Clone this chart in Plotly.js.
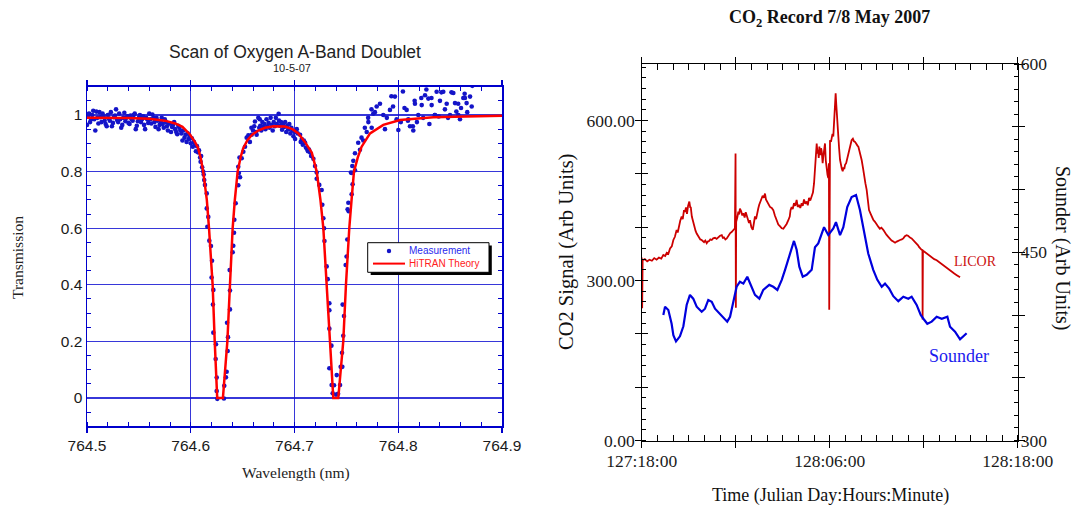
<!DOCTYPE html>
<html>
<head>
<meta charset="utf-8">
<script src="https://cdn.plot.ly/plotly-3.0.1.min.js"></script>
<style>
  html, body { margin: 0; padding: 0; background: #ffffff; }
  #chart { width: 1078px; height: 508px; }
</style>
</head>
<body>
<div id="chart"></div>
<script>
// ---- Oxygen A-band scan: measured transmission, [wavelength nm, transmission] ----
const SCAN_WING_LEFT = [
  [764.500,0.965],[764.501,0.995],[764.502,1.005],[764.503,0.975],[764.504,0.985],[764.505,1.000],[764.506,1.015],[764.507,0.985],[764.508,0.945],[764.509,1.012],
  [764.510,0.990],[764.511,0.970],[764.512,1.010],[764.513,0.992],[764.514,0.975],[764.515,1.005],[764.516,0.995],[764.517,0.980],[764.518,0.968],[764.519,0.960],
  [764.520,1.000],[764.521,0.988],[764.522,0.980],[764.523,1.010],[764.524,0.960],[764.525,0.972],[764.526,0.992],[764.527,0.998],[764.528,1.020],[764.529,0.982],
  [764.530,0.975],[764.531,1.005],[764.532,0.985],[764.533,0.955],[764.534,0.965],[764.535,0.990],[764.536,1.008],[764.537,0.978],[764.538,0.990],[764.539,0.995],
  [764.540,0.972],[764.541,0.968],[764.542,0.998],[764.543,0.985],[764.544,0.980],[764.545,1.000],[764.546,1.005],[764.547,0.950],[764.548,0.962],[764.549,0.978],
  [764.550,0.990],[764.551,1.000],[764.552,0.975],[764.553,0.985],[764.554,0.995],[764.555,0.965],[764.556,0.950],[764.557,0.990],[764.558,0.985],[764.559,0.972],
  [764.560,1.005],[764.561,0.985],[764.562,0.970],[764.563,1.002],[764.564,0.990],[764.565,0.975],[764.566,0.958],[764.567,0.990],[764.568,0.980],[764.569,0.950],
  [764.570,0.965],[764.571,0.978],[764.572,0.990],[764.573,0.968],[764.574,0.955],[764.575,0.985],[764.576,0.975],[764.577,0.960],[764.578,0.945],[764.579,0.970],
  [764.580,0.970],[764.581,0.940],[764.582,0.958],[764.583,0.965],[764.584,0.975],[764.585,0.950],[764.586,0.940],[764.587,0.932],[764.588,0.962],[764.589,0.955],
  [764.590,0.945]
];
const SCAN_DIP_1 = [
  [764.591,0.935],[764.592,0.910],[764.593,0.945],[764.594,0.920],[764.595,0.930],[764.596,0.905],[764.597,0.935],[764.598,0.915],[764.599,0.925],[764.600,0.900],
  [764.601,0.918],[764.602,0.888],[764.603,0.905],[764.604,0.895],[764.605,0.872],[764.606,0.890],[764.607,0.868],[764.608,0.875],[764.609,0.850],[764.6095,0.835],
  [764.610,0.855],[764.611,0.815],[764.612,0.800],[764.6125,0.790],[764.613,0.770],[764.6137,0.753],[764.6154,0.723],[764.6154,0.670],[764.616,0.605],[764.6169,0.640],
  [764.6179,0.556],[764.6195,0.537],[764.6205,0.485],[764.6201,0.426],[764.6218,0.382],[764.6214,0.330],[764.6218,0.231],[764.6243,0.190],[764.6240,0.138],[764.6250,0.072],
  [764.6250,0.025],[764.6256,-0.003],[764.6320,-0.002],[764.6323,0.043],[764.6339,0.073],[764.6346,0.093],[764.6356,0.166],[764.6359,0.215],[764.6350,0.266],[764.6378,0.313],
  [764.6378,0.380],[764.6375,0.452],[764.6404,0.515],[764.6410,0.538],[764.6417,0.584],[764.6420,0.630],[764.6433,0.688],[764.6458,0.752],[764.6458,0.817],[764.6464,0.795],
  [764.6475,0.780]
];
const SCAN_HUMP = [
  [764.6470,0.850],[764.6491,0.847],[764.6507,0.870],[764.6523,0.888],[764.6539,0.920],[764.6555,0.928],[764.6570,0.905],[764.6587,0.930],[764.6600,0.945],[764.6619,0.977],
  [764.6630,0.940],[764.6651,0.990],[764.6660,0.955],[764.6670,0.962],[764.6680,0.945],[764.6690,0.975],[764.6700,0.958],[764.6710,0.968],[764.6720,0.950],[764.6730,0.985],
  [764.6740,0.960],[764.6750,0.972],[764.6760,0.955],[764.6770,0.990],[764.6780,0.965],[764.6790,0.945],[764.6800,0.975],[764.6810,0.960],[764.6820,0.990],[764.6830,0.968],
  [764.6847,1.004],[764.6850,0.980],[764.6860,0.962],[764.6870,0.975],[764.6880,0.948],[764.6890,0.968],[764.6900,0.958],[764.6910,0.975],[764.6920,0.940],[764.6930,0.962],
  [764.6940,0.950],[764.6950,0.968],[764.6960,0.935],[764.6970,0.955],[764.6980,0.945],[764.6990,0.925],[764.6585,0.955],[764.6612,0.960],[764.6635,0.930],[764.6665,0.985]
];
const SCAN_DIP_2 = [
  [764.7000,0.940],[764.7006,0.915],[764.7022,0.950],[764.7030,0.935],[764.7054,0.930],[764.7060,0.905],[764.7070,0.915],[764.7080,0.895],[764.7090,0.910],[764.7102,0.902],
  [764.7110,0.885],[764.7120,0.880],[764.7130,0.872],[764.7140,0.878],[764.7150,0.868],[764.7160,0.855],[764.7182,0.845],[764.7198,0.820],[764.7214,0.797],[764.7214,0.775],
  [764.7239,0.753],[764.7262,0.735],[764.7268,0.683],[764.7278,0.635],[764.7285,0.600],[764.7289,0.555],[764.7310,0.465],[764.7320,0.420],[764.7336,0.335],[764.7336,0.310],
  [764.7336,0.245],[764.7356,0.185],[764.7336,0.105],[764.7358,0.046],[764.7368,0.017],[764.7381,0.045],[764.7407,0.081],[764.7400,0.012],[764.7420,0.015],[764.7439,0.046],
  [764.7445,0.110],[764.7461,0.110],[764.7458,0.160],[764.7470,0.220],[764.7477,0.290],[764.7464,0.330],[764.7493,0.470],[764.7502,0.500],[764.7509,0.560],[764.7522,0.660],
  [764.7519,0.690],[764.7512,0.667],[764.7551,0.720],[764.7560,0.755],[764.7544,0.797],[764.7557,0.820],[764.7567,0.838],[764.7551,0.795],[764.7583,0.805],[764.7583,0.865],
  [764.7614,0.902],[764.7631,0.877],[764.7646,0.920],[764.7663,0.910],[764.7678,0.955],[764.7696,0.940],[764.7710,0.990],[764.7712,0.975]
];
const SCAN_WING_RIGHT = [
  [764.7742,1.020],[764.7744,0.955],[764.7760,1.005],[764.7775,1.010],[764.7792,1.030],[764.7824,1.040],[764.7856,1.000],[764.7872,0.950],[764.7920,1.018],[764.7934,1.066],
  [764.7950,1.030],[764.7968,1.065],[764.7984,0.985],[764.8001,0.947],[764.8045,1.083],[764.8060,1.025],[764.8081,1.018],[764.8093,0.980],[764.8097,0.985],[764.8113,0.960],
  [764.8141,0.960],[764.8145,0.945],[764.8158,1.050],[764.8161,1.040],[764.8193,1.000],[764.8222,1.060],[764.8226,1.035],[764.8258,1.070],[764.8271,1.090],[764.8290,1.058],
  [764.8320,1.060],[764.8322,1.035],[764.8352,1.000],[764.8354,1.000],[764.8370,1.082],[764.8402,1.050],[764.8416,1.080],[764.8434,1.082],[764.8450,1.020],[764.8467,1.040],
  [764.8499,1.000],[764.8513,1.080],[764.8531,1.078],[764.8547,1.042],[764.8578,1.040],[764.8579,1.000],[764.8595,0.985],[764.8627,1.060],[764.8640,1.075],[764.8643,1.060],
  [764.8659,1.042],[764.8692,1.065],[764.8708,1.030],[764.8714,1.103],[764.7890,0.990],[764.8025,0.975],[764.8180,0.975],[764.8240,0.990],[764.8300,0.968],[764.8390,0.995],
  [764.8480,0.990],[764.8560,1.012],[764.8605,1.025],[764.8665,1.010]
];

// ---- HITRAN model transmission, [wavelength nm, transmission] ----
const THEORY = [
  [764.500,0.990],[764.520,0.990],[764.540,0.989],[764.560,0.987],[764.575,0.980],[764.585,0.970],[764.592,0.958],[764.599,0.932],[764.604,0.905],[764.607,0.884],
  [764.6095,0.850],[764.6120,0.800],[764.6140,0.750],[764.6155,0.700],[764.6176,0.600],[764.6195,0.500],[764.6211,0.400],[764.6231,0.200],[764.6245,0.070],[764.6255,0.000],
  [764.6310,0.000],[764.6325,0.080],[764.6353,0.200],[764.6378,0.400],[764.6390,0.500],[764.6404,0.600],[764.6425,0.700],[764.6452,0.800],[764.6480,0.850],[764.6505,0.882],
  [764.6545,0.910],[764.6590,0.930],[764.6650,0.945],[764.6716,0.955],[764.6800,0.960],[764.6908,0.959],[764.6980,0.950],[764.7037,0.935],[764.7100,0.905],[764.7167,0.867],
  [764.7214,0.800],[764.7250,0.700],[764.7278,0.600],[764.7295,0.500],[764.7310,0.400],[764.7342,0.200],[764.7360,0.080],[764.7374,0.000],[764.7422,0.000],[764.7440,0.080],
  [764.7470,0.200],[764.7496,0.400],[764.7510,0.500],[764.7528,0.600],[764.7550,0.700],[764.7573,0.800],[764.7610,0.850],[764.7647,0.888],[764.7728,0.935],[764.7856,0.965],
  [764.8017,0.982],[764.8338,0.992],[764.8650,0.995],[764.9000,0.997]
];

// ---- CO2 record: hours after day 127 00:00, signal ----
const LICOR = [
  [18.00,343],[18.03,248],[18.06,338],[18.20,340],[18.35,336],[18.50,339],[18.65,337],[18.80,342],[18.95,339],[19.10,343],
  [19.25,341],[19.38,348],[19.50,346],[19.60,352],[19.70,350],[19.81,360],[19.92,364],[20.02,376],[20.12,382],[20.23,395],
  [20.30,390],[20.38,405],[20.46,412],[20.55,420],[20.62,415],[20.70,432],[20.76,429],[20.83,437],[20.89,425],[20.96,440],
  [21.04,448],[21.10,436],[21.13,438],[21.20,420],[21.26,413],[21.32,404],[21.37,400],[21.44,393],[21.51,388],[21.58,384],
  [21.66,380],[21.74,377],[21.83,376],[21.90,373],[21.98,372],[22.06,375],[22.15,370],[22.22,373],[22.30,374],[22.38,377],
  [22.47,376],[22.56,379],[22.68,380],[22.78,378],[22.89,382],[23.00,384],[23.11,385],[23.18,380],[23.25,381],[23.34,377],
  [23.43,379],[23.50,383],[23.57,386],[23.65,389],[23.74,391],[23.85,394],[23.95,398],[23.99,538],[24.01,249],[24.03,410],
  [24.10,418],[24.17,429],[24.22,424],[24.27,435],[24.35,430],[24.42,422],[24.49,426],[24.57,418],[24.64,428],[24.70,423],
  [24.78,417],[24.85,408],[24.91,413],[25.00,400],[25.09,395],[25.15,410],[25.23,420],[25.30,415],[25.37,430],[25.44,435],
  [25.50,442],[25.58,448],[25.66,454],[25.72,459],[25.80,455],[25.87,463],[25.93,452],[26.00,448],[26.08,445],[26.19,438],
  [26.30,436],[26.40,432],[26.50,422],[26.62,413],[26.72,405],[26.82,402],[26.94,398],[27.04,397],[27.15,401],[27.25,406],
  [27.36,413],[27.45,420],[27.50,432],[27.57,438],[27.64,434],[27.72,445],[27.80,440],[27.89,451],[27.96,438],[28.04,442],
  [28.12,436],[28.21,445],[28.28,440],[28.36,452],[28.44,444],[28.53,448],[28.60,441],[28.68,455],[28.76,450],[28.85,460],
  [28.93,465],[29.00,482],[29.04,505],[29.07,526],[29.12,540],[29.17,557],[29.22,538],[29.26,545],[29.30,530],[29.34,551],
  [29.40,535],[29.45,548],[29.49,542],[29.55,520],[29.59,532],[29.65,545],[29.70,557],[29.75,525],[29.81,507],[29.86,498],
  [29.91,492],[29.95,520],[29.97,245],[29.99,540],[30.02,563],[30.08,560],[30.13,567],[30.18,575],[30.23,570],[30.30,601],
  [30.35,625],[30.38,651],[30.42,630],[30.45,613],[30.50,595],[30.55,576],[30.60,548],[30.66,526],[30.72,515],[30.77,510],
  [30.83,505],[30.88,512],[30.93,509],[30.98,517],[31.05,520],[31.12,528],[31.19,535],[31.26,545],[31.33,555],[31.40,563],
  [31.48,566],[31.55,561],[31.62,560],[31.70,555],[31.77,553],[31.83,551],[31.93,540],[32.04,526],[32.12,512],[32.19,495],
  [32.28,482],[32.36,470],[32.44,450],[32.51,432],[32.60,426],[32.68,420],[32.78,414],[32.89,410],[33.00,404],[33.10,401],
  [33.20,397],[33.30,399],[33.42,395],[33.52,390],[33.62,386],[33.74,382],[33.85,378],[33.95,375],[34.06,373],[34.17,371],
  [34.28,373],[34.38,375],[34.49,376],[34.60,377],[34.70,379],[34.80,383],[34.91,385],[35.00,384],[35.06,382],[35.15,380],
  [35.23,379],[35.33,376],[35.44,373],[35.54,370],[35.64,366],[35.70,363],[35.76,360],[35.85,358],[35.92,357],[35.93,227],
  [35.95,356],[36.05,354],[36.19,351],[36.35,347],[36.51,343],[36.67,340],[36.83,338],[37.00,334],[37.15,331],[37.30,327],
  [37.47,323],[37.63,320],[37.79,316],[37.95,313],[38.11,310],[38.22,308],[38.32,306]
];
const SOUNDER = [
  [19.38,400.0],[19.49,406.6],[19.70,404.0],[19.91,393.0],[20.02,384.0],[20.19,379.0],[20.44,383.0],[20.66,391.0],[20.87,408.0],[21.08,416.0],
  [21.29,413.0],[21.51,406.6],[21.83,402.6],[22.04,405.0],[22.25,412.0],[22.47,410.6],[22.68,405.0],[23.00,401.0],[23.21,398.6],[23.46,394.7],
  [23.64,398.6],[23.81,409.0],[24.06,422.5],[24.27,426.5],[24.49,425.0],[24.74,430.5],[25.02,422.5],[25.23,416.0],[25.51,413.0],[25.76,420.0],
  [26.14,424.0],[26.40,422.5],[26.66,420.0],[26.94,428.0],[27.15,436.0],[27.47,449.0],[27.72,459.0],[27.89,452.0],[28.06,438.5],[28.28,430.5],
  [28.53,432.0],[28.85,436.0],[29.06,454.0],[29.27,457.0],[29.49,465.0],[29.64,470.0],[29.91,463.7],[30.23,469.0],[30.40,474.0],[30.66,463.7],
  [30.87,470.0],[31.12,486.0],[31.40,494.0],[31.68,495.6],[31.93,483.7],[32.19,467.7],[32.46,449.0],[32.78,436.0],[33.04,428.0],[33.32,422.5],
  [33.53,425.0],[33.80,421.0],[34.06,415.0],[34.38,411.0],[34.70,414.6],[35.02,413.0],[35.23,414.6],[35.55,408.0],[35.81,400.0],[35.98,397.0],
  [36.23,393.0],[36.51,394.7],[36.83,398.6],[37.15,397.0],[37.51,398.6],[37.68,390.7],[38.00,386.7],[38.32,380.6],[38.57,384.0],[38.74,385.5]
];

// ---- axis ticks for the CO2 record ----
const TIME_TICKS = [18, 24, 30, 36, 42];
const TIME_LABEL_TICKS = [18, 30, 42];
const TIME_LABELS = ['127:18:00', '128:06:00', '128:18:00'];
const CO2_TICKS = [0, 100, 200, 300, 400, 500, 600];
const CO2_LABEL_TICKS = [0, 300, 600];
const CO2_LABELS = ['0.00', '300.00', '600.00'];
const SOUNDER_TICKS = [300, 350, 400, 450, 500, 550, 600];
const SOUNDER_LABEL_TICKS = [300, 450, 600];
const SOUNDER_LABELS = ['300', '450', '600'];

// ---- drawing ----
const W = 1078, H = 508;
const fx = p => p / W;          // pixel column -> paper x
const fy = p => 1 - p / H;      // pixel row -> paper y
const col = (rows, i) => rows.map(r => r[i]);

const SANS = 'Liberation Sans, Arial, Helvetica, sans-serif';
const SERIF = 'Liberation Serif, Times New Roman, Times, serif';
const BLUE = '#0000cc';
const GRID = 'rgba(20,20,210,0.85)';
const DOT = '#1414c8';

const scan = [...SCAN_WING_LEFT, ...SCAN_DIP_1, ...SCAN_HUMP, ...SCAN_DIP_2, ...SCAN_WING_RIGHT];

const carrier = (xa, ya) => ({ type: 'scatter', mode: 'lines', x: [], y: [], xaxis: xa, yaxis: ya, showlegend: false, hoverinfo: 'skip' });

const traces = [
  { type: 'scatter', mode: 'markers', name: 'Measurement', x: col(scan, 0), y: col(scan, 1),
    xaxis: 'x', yaxis: 'y', marker: { size: 4.6, color: DOT }, showlegend: false },
  { type: 'scatter', mode: 'lines', name: 'HiTRAN Theory', x: col(THEORY, 0), y: col(THEORY, 1),
    xaxis: 'x', yaxis: 'y', line: { color: '#ff0000', width: 2.5 }, showlegend: false },
  { type: 'scatter', mode: 'lines', name: 'LICOR', x: col(LICOR, 0), y: col(LICOR, 1),
    xaxis: 'x2', yaxis: 'y2', line: { color: '#cc0000', width: 1.8 }, showlegend: false },
  { type: 'scatter', mode: 'lines', name: 'Sounder', x: col(SOUNDER, 0), y: col(SOUNDER, 1),
    xaxis: 'x2', yaxis: 'y3', line: { color: '#0000dd', width: 2.2 }, showlegend: false },
  // carriers for the inner tick halves and the label-only axes
  carrier('x3', 'y4'), carrier('x3', 'y5'), carrier('x4', 'y6'), carrier('x4', 'y7')
];

const serifTicks = { family: SERIF, size: 17.5, color: '#1a1a1a' };
const blackTicks = { tickwidth: 1, tickcolor: '#000' };
const bare = { showgrid: false, zeroline: false };

const layout = {
  width: W, height: H,
  margin: { l: 0, r: 0, t: 0, b: 0 },
  paper_bgcolor: '#ffffff', plot_bgcolor: 'rgba(0,0,0,0)',
  showlegend: false,
  // ---- oxygen scan ----
  xaxis: {
    domain: [fx(87), fx(502)], range: [764.5, 764.9], anchor: 'y',
    tickmode: 'linear', tick0: 764.5, dtick: 0.1, tickformat: '.1f',
    ticks: 'outside', ticklen: 5, tickwidth: 1.2, tickcolor: BLUE,
    showline: true, linecolor: BLUE, linewidth: 1.5, mirror: 'allticks',
    showgrid: true, gridcolor: GRID, gridwidth: 1.2, zeroline: false,
    minor: { tick0: 764.5, dtick: 0.02, ticks: 'inside', ticklen: 4, tickwidth: 1, tickcolor: BLUE, showgrid: false },
    tickfont: { family: SANS, size: 15.5, color: '#1a1a1a' }
  },
  yaxis: {
    domain: [fy(426.3), fy(86.7)], range: [-0.1, 1.1], anchor: 'x',
    tickmode: 'linear', tick0: 0, dtick: 0.2,
    ticks: '', showline: true, linecolor: BLUE, linewidth: 1.5, mirror: 'allticks',
    showgrid: true, gridcolor: GRID, gridwidth: 1.2, zeroline: false,
    minor: { tick0: 0, dtick: 0.05, ticks: 'inside', ticklen: 4, tickwidth: 1, tickcolor: BLUE, showgrid: false },
    tickfont: { family: SANS, size: 15.5, color: '#1a1a1a' }
  },
  // ---- CO2 record: frame with outer tick halves and minor ticks ----
  xaxis2: Object.assign({
    domain: [fx(641.7), fx(1017.7)], range: [18, 42], anchor: 'y2',
    tickmode: 'array', tickvals: TIME_TICKS, showticklabels: false,
    ticks: 'outside', ticklen: 6,
    showline: true, linecolor: '#000', linewidth: 1, mirror: 'allticks',
    minor: { tickmode: 'linear', tick0: 18, dtick: 1, ticks: 'inside', ticklen: 4, tickwidth: 1, tickcolor: '#000' }
  }, blackTicks, bare),
  yaxis2: Object.assign({
    domain: [fy(440.5), fy(64)], range: [0, 706], anchor: 'x2',
    tickmode: 'array', tickvals: CO2_TICKS, showticklabels: false,
    ticks: 'outside', ticklen: 6,
    showline: true, linecolor: '#000', linewidth: 1,
    minor: { tickmode: 'linear', tick0: 0, dtick: 20, ticks: 'inside', ticklen: 4, tickwidth: 1, tickcolor: '#000' }
  }, blackTicks, bare),
  yaxis3: Object.assign({
    overlaying: 'y2', side: 'right', anchor: 'x2', range: [300, 600],
    tickmode: 'array', tickvals: SOUNDER_TICKS, showticklabels: false,
    ticks: 'outside', ticklen: 6,
    showline: true, linecolor: '#000', linewidth: 1,
    minor: { tickmode: 'linear', tick0: 300, dtick: 10, ticks: 'inside', ticklen: 4, tickwidth: 1, tickcolor: '#000' }
  }, blackTicks, bare),
  // inner halves of the major ticks
  xaxis3: Object.assign({
    overlaying: 'x2', range: [18, 42], anchor: 'y4',
    tickmode: 'array', tickvals: TIME_TICKS, ticks: 'inside', ticklen: 6,
    showticklabels: false, showline: false, mirror: 'allticks'
  }, blackTicks, bare),
  yaxis4: Object.assign({
    overlaying: 'y2', range: [0, 706], anchor: 'x3',
    tickmode: 'array', tickvals: CO2_TICKS, ticks: 'inside', ticklen: 6,
    showticklabels: false, showline: false
  }, blackTicks, bare),
  yaxis5: Object.assign({
    overlaying: 'y2', side: 'right', range: [300, 600], anchor: 'x3',
    tickmode: 'array', tickvals: SOUNDER_TICKS, ticks: 'inside', ticklen: 6,
    showticklabels: false, showline: false
  }, blackTicks, bare),
  // tick labels
  xaxis4: Object.assign({
    overlaying: 'x2', range: [18, 42], anchor: 'y6',
    tickmode: 'array', tickvals: TIME_LABEL_TICKS, ticktext: TIME_LABELS,
    ticks: '', showline: false, ticklabelstandoff: 8, tickfont: serifTicks
  }, bare),
  yaxis6: Object.assign({
    overlaying: 'y2', range: [0, 706], anchor: 'x4',
    tickmode: 'array', tickvals: CO2_LABEL_TICKS, ticktext: CO2_LABELS,
    ticks: '', showline: false, ticklabelstandoff: 6, tickfont: serifTicks
  }, bare),
  yaxis7: Object.assign({
    overlaying: 'y2', side: 'right', range: [300, 600], anchor: 'x4',
    tickmode: 'array', tickvals: SOUNDER_LABEL_TICKS, ticktext: SOUNDER_LABELS,
    ticks: '', showline: false, ticklabelstandoff: 2, tickfont: serifTicks
  }, bare),
  shapes: [
    // legend panel with drop shadow
    { type: 'rect', xref: 'paper', yref: 'paper', layer: 'above',
      x0: fx(370.7), x1: fx(491.8), y0: fy(275.0), y1: fy(245.6), fillcolor: '#000', line: { width: 0 } },
    { type: 'rect', xref: 'paper', yref: 'paper', layer: 'above',
      x0: fx(367.7), x1: fx(489), y0: fy(272.3), y1: fy(242.7), fillcolor: '#fff', line: { color: '#000', width: 1 } },
    { type: 'circle', xref: 'paper', yref: 'paper', layer: 'above',
      x0: fx(386.8), x1: fx(391.2), y0: fy(253.2), y1: fy(248.8), fillcolor: DOT, line: { width: 0 } },
    { type: 'line', xref: 'paper', yref: 'paper', layer: 'above',
      x0: fx(373), x1: fx(405), y0: fy(263.6), y1: fy(263.6), line: { color: '#ff0000', width: 2 } }
  ],
  annotations: [
    { text: 'Scan of Oxygen A-Band Doublet', x: fx(295), y: fy(52), font: { family: SANS, size: 17.5, color: '#222' } },
    { text: '10-5-07', x: fx(292), y: fy(67.5), font: { family: SANS, size: 11, color: '#222' } },
    { text: 'Wavelength (nm)', x: fx(295.5), y: fy(473), font: { family: SERIF, size: 15.5, color: '#222' } },
    { text: 'Transmission', x: fx(17), y: fy(258), textangle: -90, font: { family: SERIF, size: 15.5, color: '#222' } },
    { text: 'Measurement', x: fx(408), y: fy(250.8), xanchor: 'left', borderpad: 0, font: { family: SANS, size: 10, color: '#2a2aee' } },
    { text: 'HiTRAN Theory', x: fx(408), y: fy(263.6), xanchor: 'left', borderpad: 0, font: { family: SANS, size: 10, color: '#ff2020' } },
    { text: '<b>CO<sub>2</sub> Record 7/8 May 2007</b>', x: fx(829), y: fy(18), font: { family: SERIF, size: 18, color: '#111' } },
    { text: 'CO2 Signal (Arb Units)', x: fx(566), y: fy(252), textangle: -90, font: { family: SERIF, size: 20.5, color: '#111' } },
    { text: 'Sounder (Arb Units)', x: fx(1063), y: fy(248), textangle: 90, font: { family: SERIF, size: 20, color: '#111' } },
    { text: 'Time (Julian Day:Hours:Minute)', x: fx(830), y: fy(495), font: { family: SERIF, size: 18, color: '#111' } },
    { text: 'LICOR', x: fx(975.5), y: fy(261), font: { family: SERIF, size: 14, color: '#cc1111' } },
    { text: 'Sounder', x: fx(959), y: fy(356), font: { family: SERIF, size: 18, color: '#1a1aee' } }
  ].map(a => Object.assign({ xref: 'paper', yref: 'paper', showarrow: false, xanchor: 'center', yanchor: 'middle' }, a))
};

Plotly.newPlot('chart', traces, layout, { staticPlot: true, displayModeBar: false });
</script>
</body>
</html>
